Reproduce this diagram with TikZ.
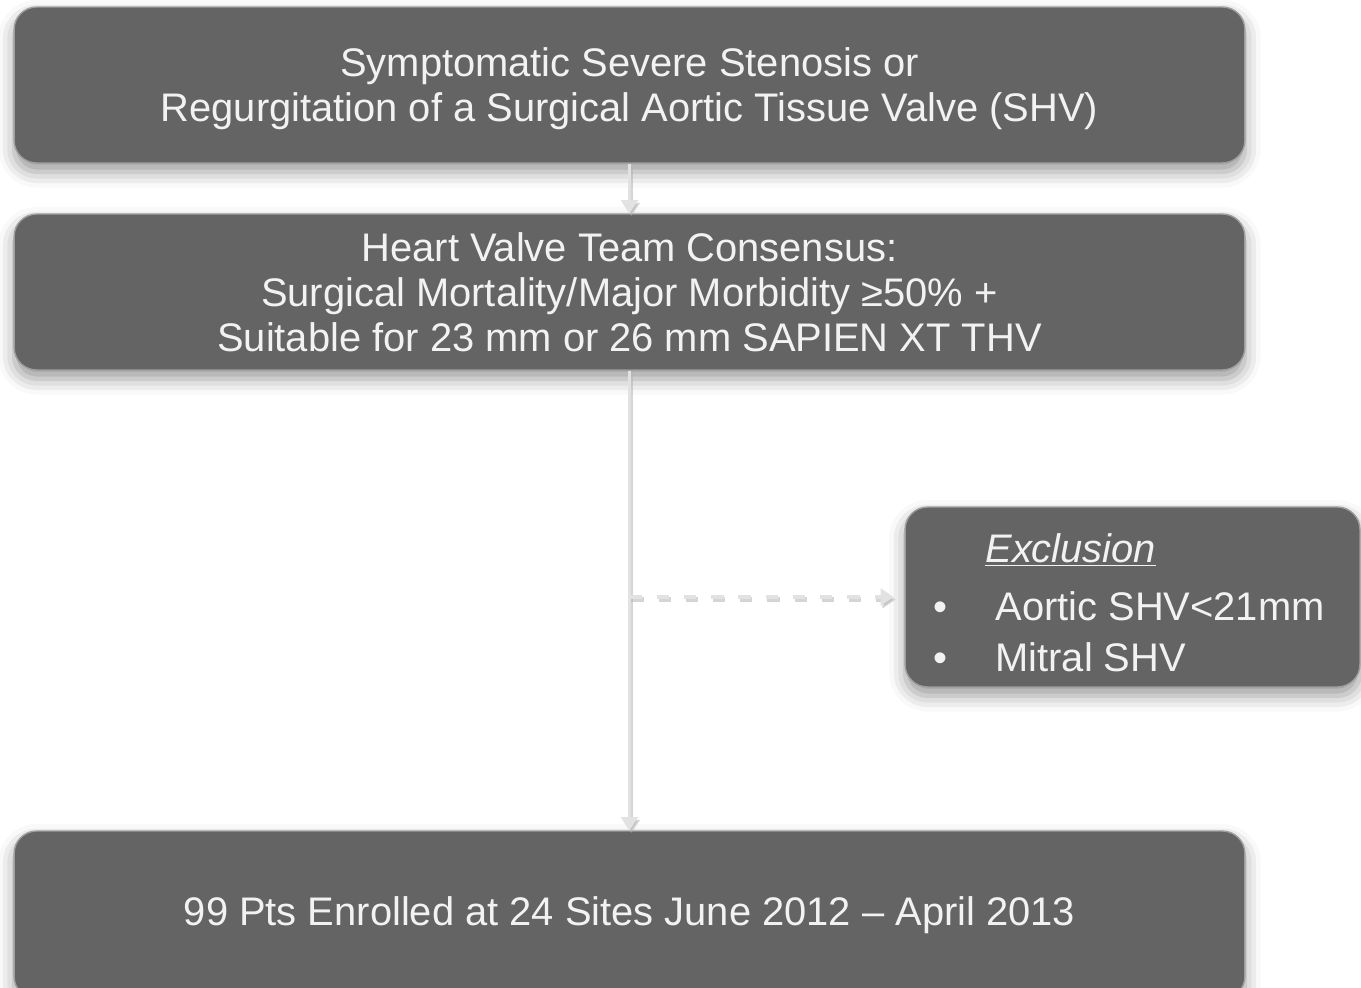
\documentclass[tikz,border=0pt]{standalone}
\usepackage{fontspec}
\setmainfont{Liberation Sans}
\usetikzlibrary{positioning,arrows.meta,calc,shadows.blur}

\definecolor{boxgray}{HTML}{646464}
\definecolor{textgray}{HTML}{F2F2F2}
\definecolor{linkgray}{HTML}{E2E2E2}

\begin{document}
\begin{tikzpicture}[x=0.02cm, y=-0.02cm,
  stage/.style={rectangle, rounded corners=0.45cm, fill=boxgray, draw=black!38, line width=0.8pt,
    minimum width=24.62cm, minimum height=3.12cm, align=center, text=textgray,
    font=\fontsize{22.7}{25.5}\selectfont,
    blur shadow={shadow xshift=0pt, shadow yshift=-5pt, shadow blur radius=9pt, shadow opacity=40}},
  exclbox/.style={stage, minimum width=9.1cm, minimum height=3.6cm},
  excltext/.style={text=textgray, align=left, inner sep=0pt, font=\fontsize{22.7}{28.9}\selectfont},
  link/.style={draw=linkgray, line width=1.8pt, -{Triangle[width=9.5pt,length=7.5pt]},
    preaction={draw=black!30, opacity=0.55, line width=2.4pt,
      transform canvas={shift={(1pt,-1.5pt)}}}},
  dashlink/.style={draw=linkgray, line width=2.2pt, dash pattern=on 7pt off 8.5pt,
    -{Triangle[width=9.5pt,length=7.5pt]},
    preaction={draw=black!30, opacity=0.55, line width=2.6pt, dash pattern=on 7pt off 8.5pt,
      transform canvas={shift={(1pt,-1.5pt)}}}}]
  \useasboundingbox (0,0) rectangle (1361,987);

  % main flow
  \node[stage] (symptom) at (629.5,85)
    {\rule{0pt}{21pt}Symptomatic Severe Stenosis or\\Regurgitation of a Surgical Aortic Tissue Valve (SHV)};
  \node[stage] (team) at (629.5,292)
    {Heart Valve Team Consensus:\\Surgical Mortality/Major Morbidity ≥50\% +\\Suitable for 23 mm or 26 mm SAPIEN XT THV};
  \node[stage, minimum height=3.36cm] (enrol) at (629.5,915)
    {99 Pts Enrolled at 24 Sites June 2012 -- April 2013};

  % side branch
  \node[exclbox] (excl) at (1132.5,597) {};
  \node[excltext] (excllist) at ($(excl.center)+(0,10)$)
    {\begin{tabular}{@{}p{1.1cm}@{}l@{}}
       & \hspace{-0.2cm}\underline{\textit{Exclusion}}\\[4pt]
     \hspace{-0.14cm}\textbullet & Aortic SHV<21mm\\
     \hspace{-0.14cm}\textbullet & Mitral SHV
     \end{tabular}};

  \draw[link] (symptom) -- (team);
  \draw[link] (team) -- (enrol);
  \coordinate (split) at (team.south |- excl.west);
  \draw[dashlink, shorten >=6pt] (split) -- (excl.west);
\end{tikzpicture}
\end{document}
